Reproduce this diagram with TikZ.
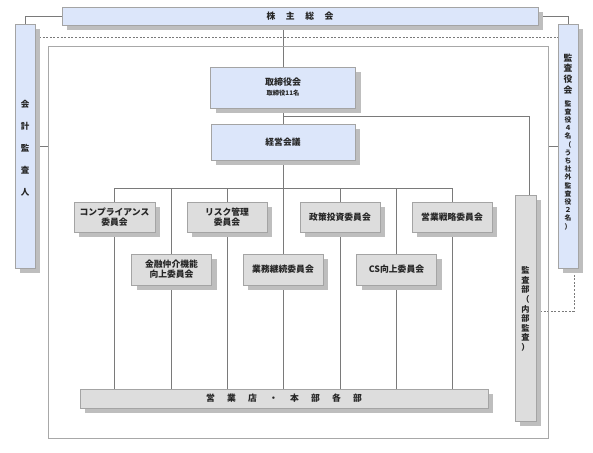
\documentclass[tikz,border=0pt]{standalone}
\usepackage{fontspec}
\setmainfont{Noto Sans CJK JP}
\usetikzlibrary{shadows,backgrounds}
\definecolor{bluefill}{HTML}{DCE6FA}
\definecolor{grayfill}{HTML}{DDDDDD}
\definecolor{shadowc}{HTML}{BEBEBE}
\definecolor{edgec}{HTML}{A4A4A4}
\definecolor{linec}{HTML}{7A7A7A}
\definecolor{framec}{HTML}{A8A8A8}
\begin{document}
\begin{tikzpicture}[x=1pt,y=-1pt,
  box/.style={draw=edgec, line width=0.8pt, inner sep=0pt, align=center,
    font=\fontsize{8.8}{10}\selectfont\bfseries, text=black!85,
    general shadow={fill=shadowc, shadow xshift=5pt, shadow yshift=-5pt}},
  bluebox/.style={box, fill=bluefill},
  graybox/.style={box, fill=grayfill},
  lbl/.style={inner sep=0pt, align=center, text=black!85},
  conn/.style={draw=linec, line width=0.8pt},
  dashline/.style={draw=linec, line width=0.8pt, dash pattern=on 2pt off 1.6pt},
  framebox/.style={draw=framec, line width=1pt, inner sep=0pt}]
\useasboundingbox (0,0) rectangle (593,452);

% frame
\node[framebox, minimum width=500pt, minimum height=391pt] (frame) at (298,242.5) {};

% top row
\node[bluebox, minimum width=476pt, minimum height=18pt] (soukai) at (300,16)
  {株\hspace{10.5pt}主\hspace{10.5pt}総\hspace{10.5pt}会};
\node[bluebox, minimum width=20pt, minimum height=244pt] (kaikei) at (25,146) {};
\node[lbl, font=\fontsize{8.5}{22}\selectfont\bfseries] (kaikeit) at (25,148)
  {会\\計\\監\\査\\人};
\node[bluebox, minimum width=20pt, minimum height=244pt] (kansayaku) at (568,146) {};
\node[lbl, font=\fontsize{8.8}{10.8}\selectfont\bfseries] (kyt1) at (568,74)
  {監\\査\\役\\会};
\node[lbl, font=\fontsize{6.8}{8.2}\selectfont\bfseries] (kyt2) at (568,165)
  {監\\査\\役\\４\\名\\（\\う\\ち\\社\\外\\監\\査\\役\\２\\名\\）};

% board
\node[bluebox, minimum width=145pt, minimum height=41pt] (torishimari) at (283,87.5) {};
\node[lbl, font=\fontsize{9}{10}\selectfont\bfseries] (tt1) at (283,82.5) {取締役会};
\node[lbl, font=\fontsize{6.3}{7}\selectfont\bfseries] (tt2) at (283,93) {取締役11名};
\node[bluebox, minimum width=144pt, minimum height=36pt] (keiei) at (283,142) {経営会議};

% committees row 1
\node[graybox, minimum width=81pt, minimum height=30pt] (comp) at (114.5,217) {コンプライアンス\\委員会};
\node[graybox, minimum width=80pt, minimum height=30pt] (risk) at (227,217) {リスク管理\\委員会};
\node[graybox, minimum width=80pt, minimum height=30pt] (seisaku) at (340,217) {政策投資委員会};
\node[graybox, minimum width=80pt, minimum height=30pt] (eigyo) at (452,217) {営業戦略委員会};
% committees row 2
\node[graybox, minimum width=80pt, minimum height=31pt] (kinyu) at (171.5,269.5) {金融仲介機能\\向上委員会};
\node[graybox, minimum width=80pt, minimum height=31pt] (gyomu) at (283,269.5) {業務継続委員会};
\node[graybox, minimum width=80pt, minimum height=31pt] (cs) at (396.5,269.5) {CS向上委員会};

% audit dept
\node[graybox, minimum width=21pt, minimum height=226pt] (kansabu) at (525.5,308) {};
\node[lbl, font=\fontsize{8.2}{9.6}\selectfont\bfseries] (kbt) at (525.5,309)
  {監\\査\\部\\（\\内\\部\\監\\査\\）};

% bottom
\node[graybox, minimum width=408pt, minimum height=19pt] (honbu) at (284,398.5)
  {営\hspace{12.2pt}業\hspace{12.2pt}店\hspace{12.2pt}・\hspace{12.2pt}本\hspace{12.2pt}部\hspace{12.2pt}各\hspace{12.2pt}部};

\coordinate (busL) at (114.5,188);
\coordinate (ka) at (529,116);
\coordinate (dl) at (574,311);

\begin{scope}[on background layer]
  \draw[conn] (soukai.west) -| (kaikei.north);
  \draw[conn] (soukai.east) -| (kansayaku.north);
  \draw[dashline] ([yshift=-14pt]kaikei.north east) -- ([yshift=-14pt]kansayaku.north west);
  \draw[conn] (kaikei.east) -- (kaikei.east -| frame.west);
  \draw[conn] (kansayaku.west) -- (kansayaku.west -| frame.east);
  \draw[conn] (torishimari.north |- soukai.south) -- (torishimari.north);
  \draw[conn] (torishimari.south) -- (keiei.north);
  \draw[conn] (torishimari.south |- ka) -- (ka) -- (ka |- kansabu.north);
  \draw[conn] (keiei.south) -- (keiei.south |- busL);
  \draw[conn] (comp.north |- busL) -- (eigyo.north |- busL);
  \foreach \n in {comp,risk,seisaku,eigyo,kinyu,gyomu,cs}{
    \draw[conn] (\n.north |- busL) -- (\n.north);
    \draw[conn] (\n.south) -- (\n.south |- honbu.north);
  }
  \draw[dashline] (dl -| kansabu.east) -- (dl) -- (dl |- kansayaku.south);
\end{scope}
\end{tikzpicture}
\end{document}
